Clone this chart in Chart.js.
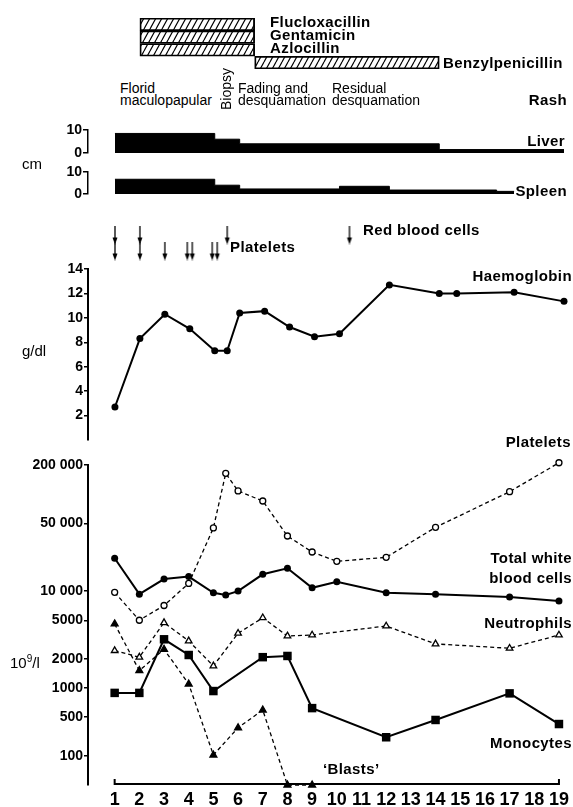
<!DOCTYPE html>
<html>
<head>
<meta charset="utf-8">
<script src="https://cdn.jsdelivr.net/npm/chart.js@4.4.1/dist/chart.umd.min.js"></script>
<style>
  body { margin: 0; background: #fff; }
  #fig { position: relative; width: 573px; height: 807px; overflow: hidden; background: #fff; color: #000; }
  #fig canvas { position: absolute; left: 0; }
  .lab { position: absolute; white-space: nowrap; line-height: 1; font-family: "Liberation Sans", Arial, sans-serif; transform: translateY(-50%); }
  .b { font-weight: bold; font-size: 15px; letter-spacing: 0.4px; }
  .r { font-size: 14px; }
  .u { font-size: 15px; }
  .lab sup { font-size: 10px; }
</style>
</head>
<body>
<div id="fig">
  <canvas id="drugs" width="573" height="51" style="top:18px"></canvas>
  <canvas id="liver" width="573" height="43" style="top:120px"></canvas>
  <canvas id="spleen" width="573" height="42" style="top:162px"></canvas>
  <canvas id="transfusions" width="573" height="44" style="top:221px"></canvas>
  <canvas id="hb" width="573" height="191" style="top:259px"></canvas>
  <canvas id="counts" width="573" height="352" style="top:455px"></canvas>
</div>
<script>
// ---- data ----
const DAYS = [1, 2, 3, 4, 5, 6, 7, 8, 9, 10, 11, 12, 13, 14, 15, 16, 17, 18, 19];

const DRUGS = ['Flucloxacillin', 'Gentamicin', 'Azlocillin', 'Benzylpenicillin'];
const DRUG_DAYS = [[2, 6.6], [2, 6.6], [2, 6.6], [6.6, 14]];

const LIVER_DAYS = [1, 5, 6, 14, 19];
const LIVER_CM = [8.5, 6, 4, 1.5, 1.5];
const SPLEEN_DAYS = [1, 5, 6, 10, 12, 16.3, 17];
const SPLEEN_CM = [6.7, 4, 2.3, 3.5, 1.8, 1.2, 1.2];
const ORGAN_TICKS = [0, 10];

const TX_ROWS = ['Red blood cells', 'Platelets'];
const RBC_TX_DAYS = [1, 2, 5.5, 10.4];
const PLT_TX_DAYS = [1, 2, 3, 3.9, 4.1, 4.9, 5.1];

const HB_DAYS = [1, 2, 3, 4, 5, 5.5, 6, 7, 8, 9, 10, 12, 14, 14.7, 17, 19];
const HB = [2.7, 8.3, 10.3, 9.1, 7.3, 7.3, 10.4, 10.55, 9.25, 8.45, 8.7, 12.7, 12.0, 12.0, 12.1, 11.35];
const HB_TICKS = [2, 4, 6, 8, 10, 12, 14];

const PLT_DAYS = [1, 2, 3, 4, 5, 5.5, 6, 7, 8, 9, 10, 12, 14, 17, 19];
const PLT = [9700, 5000, 7100, 12000, 44800, 164000, 108000, 85000, 37000, 25300, 20300, 22300, 45500, 106000, 211000];
const WBC_DAYS = [1, 2, 3, 4, 5, 5.5, 6, 7, 8, 9, 10, 12, 14, 17, 19];
const WBC = [21800, 9300, 13300, 14100, 9600, 9100, 10000, 14900, 17200, 10800, 12500, 9600, 9300, 8700, 7900];
const NEUT_DAYS = [1, 2, 3, 4, 5, 6, 7, 8, 9, 12, 14, 17, 19];
const NEUT = [2430, 2080, 4720, 3060, 1690, 3670, 5300, 3440, 3520, 4360, 2850, 2570, 3520];
const MONO_DAYS = [1, 2, 3, 4, 5, 7, 8, 9, 12, 14, 17, 19];
const MONO = [890, 890, 3180, 2190, 930, 2080, 2140, 620, 217, 445, 880, 376];
const BLAST_DAYS = [1, 2, 3, 4, 5, 6, 7, 8, 9];
const BLASTS = [4580, 1510, 2510, 1100, 104, 322, 593, 0, 0];
const COUNT_TICKS = [100, 500, 1000, 2000, 5000, 10000, 50000, 200000];

// ---- shared geometry ----
const X_MIN = -0.08, X_MAX = 19.08;
const AXIS_W = 88;
const FONT = '"Liberation Sans", Arial, sans-serif';

Chart.defaults.animation = false;
Chart.defaults.responsive = false;
Chart.defaults.events = [];
Chart.defaults.color = '#000';
Chart.defaults.font.family = FONT;
Chart.defaults.plugins.legend.display = false;
Chart.defaults.plugins.tooltip.enabled = false;

// count axis: logarithmic from 500 up, the 100 tick and the zero line squeezed in below
function countAxis(v) {
  const top = Math.log10(500);
  if (v >= 500) return Math.log10(v);
  if (v >= 100) return top - 0.4 * Math.log10(500 / v) / Math.log10(5);
  return top - 0.4 - 0.3 * (1 - v / 100);
}

class CountScale extends Chart.LinearScale {
  static id = 'count';
  determineDataLimits() {
    this.min = countAxis(this.options.min);
    this.max = countAxis(this.options.max);
  }
  buildTicks() {
    return COUNT_TICKS.map(value => ({ value }));
  }
  getPixelForValue(value) {
    return super.getPixelForValue(countAxis(value));
  }
}
Chart.register(CountScale);

function fmtCount(v) {
  return v >= 10000 ? String(v).replace(/(\d)(?=(\d{3})+$)/g, '$1 ') : String(v);
}

function dayAxis(extra) {
  return Object.assign({ type: 'linear', min: X_MIN, max: X_MAX, display: false }, extra || {});
}

function valueAxis(extra) {
  return Object.assign({
    afterFit: s => { s.width = AXIS_W; },
    grid: { drawOnChartArea: false, drawTicks: true, tickLength: 4, color: '#000', lineWidth: 1.5 },
    border: { display: true, color: '#000', width: 2 },
    ticks: { padding: 1, color: '#000', font: { family: FONT, weight: 'bold', size: 14 } }
  }, extra);
}

function pts(days, vals) {
  return days.map((d, i) => ({ x: d, y: vals[i] }));
}

function makeHatch(ctx) {
  const w = 6, h = 11;
  const tile = document.createElement('canvas');
  tile.width = w; tile.height = h;
  const t = tile.getContext('2d');
  t.strokeStyle = '#000';
  t.lineWidth = 1.2;
  t.beginPath();
  for (let k = -1; k <= 1; k++) {
    t.moveTo(k * w, h);
    t.lineTo((k + 1) * w, 0);
  }
  t.stroke();
  return ctx.createPattern(tile, 'repeat');
}

function makeArrow() {
  const c = document.createElement('canvas');
  c.width = 8; c.height = 19;
  const t = c.getContext('2d');
  t.strokeStyle = '#000';
  t.fillStyle = '#000';
  t.lineWidth = 1.3;
  t.beginPath(); t.moveTo(4, 0); t.lineTo(4, 14); t.stroke();
  t.beginPath(); t.moveTo(1.5, 12); t.lineTo(6.5, 12); t.lineTo(4, 19); t.closePath(); t.fill();
  return c;
}

// ---- antibiotics ----
const drugCanvas = document.getElementById('drugs');
new Chart(drugCanvas, {
  type: 'bar',
  data: {
    labels: DRUGS,
    datasets: [{
      data: DRUG_DAYS,
      backgroundColor: makeHatch(drugCanvas.getContext('2d')),
      borderColor: '#000',
      borderWidth: 1.2,
      borderSkipped: false,
      barPercentage: 1,
      categoryPercentage: 1
    }]
  },
  options: {
    indexAxis: 'y',
    layout: { padding: { left: AXIS_W, right: 7, top: 0, bottom: 0 } },
    scales: { x: dayAxis(), y: { display: false } }
  }
});

// ---- liver and spleen ----
function organChart(id, days, cm) {
  new Chart(document.getElementById(id), {
    type: 'line',
    data: {
      datasets: [{
        data: pts(days, cm),
        stepped: true,
        fill: 'origin',
        backgroundColor: '#000',
        borderColor: '#000',
        borderWidth: 1,
        pointRadius: 0
      }]
    },
    options: {
      layout: { padding: { left: 0, right: 7, top: 10, bottom: 10 } },
      scales: {
        x: dayAxis(),
        y: valueAxis({
          min: 0, max: 10,
          afterBuildTicks: s => { s.ticks = ORGAN_TICKS.map(value => ({ value })); },
          grid: { drawOnChartArea: false, drawTicks: true, tickLength: 5, color: '#000', lineWidth: 1.5 },
          border: { display: true, color: '#000', width: 1.5 }
        })
      }
    }
  });
}
organChart('liver', LIVER_DAYS, LIVER_CM);
organChart('spleen', SPLEEN_DAYS, SPLEEN_CM);

// ---- transfusions ----
const arrow = makeArrow();
new Chart(document.getElementById('transfusions'), {
  type: 'scatter',
  data: {
    datasets: [
      { data: RBC_TX_DAYS.map(d => ({ x: d, y: TX_ROWS[0] })), pointStyle: arrow, pointRadius: 5 },
      { data: PLT_TX_DAYS.map(d => ({ x: d, y: TX_ROWS[1] })), pointStyle: arrow, pointRadius: 5 }
    ]
  },
  options: {
    layout: { padding: { left: AXIS_W, right: 7, top: 0, bottom: 0 } },
    scales: {
      x: dayAxis(),
      y: { type: 'category', labels: TX_ROWS, offset: true, display: false }
    }
  }
});

// ---- haemoglobin ----
new Chart(document.getElementById('hb'), {
  type: 'line',
  data: {
    datasets: [{
      data: pts(HB_DAYS, HB),
      borderColor: '#000',
      borderWidth: 2,
      pointRadius: 3.5,
      pointBackgroundColor: '#000',
      pointBorderWidth: 0,
      clip: false
    }]
  },
  options: {
    layout: { padding: { left: 0, right: 7, top: 10, bottom: 10 } },
    scales: {
      x: dayAxis(),
      y: valueAxis({
        min: 0, max: 14,
        afterBuildTicks: s => { s.ticks = HB_TICKS.map(value => ({ value })); }
      })
    }
  }
});

// ---- cell counts ----
const baseline = {
  id: 'baseline',
  beforeDatasetsDraw(chart) {
    const { ctx, chartArea, scales: { x } } = chart;
    const a = x.getPixelForValue(DAYS[0]);
    const b = x.getPixelForValue(DAYS[DAYS.length - 1]);
    const y = chartArea.bottom - 1;
    ctx.save();
    ctx.strokeStyle = '#000';
    ctx.lineWidth = 2;
    ctx.beginPath();
    ctx.moveTo(a, y - 5);
    ctx.lineTo(a, y);
    ctx.lineTo(b, y);
    ctx.lineTo(b, y - 5);
    ctx.stroke();
    ctx.restore();
  }
};

const solid = { borderColor: '#000', borderWidth: 2, pointBackgroundColor: '#000', pointBorderColor: '#000', pointBorderWidth: 0, clip: false };
const dashed = { borderColor: '#000', borderWidth: 1.3, borderDash: [4, 3], pointBorderColor: '#000', pointBorderWidth: 1.3, clip: false };

new Chart(document.getElementById('counts'), {
  type: 'line',
  data: {
    datasets: [
      Object.assign({ data: pts(WBC_DAYS, WBC), pointStyle: 'circle', pointRadius: 3.5 }, solid),
      Object.assign({ data: pts(MONO_DAYS, MONO), pointStyle: 'rect', pointRadius: 6 }, solid),
      Object.assign({ data: pts(PLT_DAYS, PLT), pointStyle: 'circle', pointRadius: 3, pointBackgroundColor: '#fff' }, dashed),
      Object.assign({ data: pts(NEUT_DAYS, NEUT), pointStyle: 'triangle', pointRadius: 3.8, pointBackgroundColor: '#fff' }, dashed),
      Object.assign({ data: pts(BLAST_DAYS, BLASTS), pointStyle: 'triangle', pointRadius: 4, pointBackgroundColor: '#000' }, dashed)
    ]
  },
  options: {
    layout: { padding: { left: 0, right: 7, top: 10, bottom: 0 } },
    scales: {
      x: dayAxis({
        display: true,
        afterFit: s => { s.height = 22; },
        afterBuildTicks: s => { s.ticks = DAYS.map(value => ({ value })); },
        grid: { display: false, drawTicks: false },
        border: { display: false },
        ticks: {
          padding: 4, color: '#000', maxRotation: 0, autoSkip: false,
          font: { family: '"Liberation Sans Narrow", "Liberation Sans", sans-serif', weight: 'bold', size: 18 }
        }
      }),
      y: valueAxis({
        type: 'count', min: 0, max: 200000,
        ticks: { padding: 1, color: '#000', callback: v => fmtCount(v), font: { family: FONT, weight: 'bold', size: 14 } }
      })
    }
  },
  plugins: [baseline]
});

// ---- text ----
const LABELS = [
  ['Flucloxacillin', 270, 21, 'b'],
  ['Gentamicin', 270, 34, 'b'],
  ['Azlocillin', 270, 47, 'b'],
  ['Benzylpenicillin', 443, 62, 'b'],
  ['Florid', 120, 88, 'r'],
  ['maculopapular', 120, 100, 'r'],
  ['Fading and', 238, 88, 'r'],
  ['desquamation', 238, 100, 'r'],
  ['Residual', 332, 88, 'r'],
  ['desquamation', 332, 100, 'r'],
  ['Rash', 567, 99, 'b', 'right'],
  ['Liver', 565, 140, 'b', 'right'],
  ['Spleen', 567, 190, 'b', 'right'],
  ['cm', 22, 163, 'u'],
  ['Red blood cells', 363, 229, 'b'],
  ['Platelets', 230, 246, 'b'],
  ['Haemoglobin', 572, 275, 'b', 'right'],
  ['g/dl', 22, 350, 'u'],
  ['Platelets', 571, 441, 'b', 'right'],
  ['Total white', 572, 557, 'b', 'right'],
  ['blood cells', 572, 577, 'b', 'right'],
  ['Neutrophils', 572, 622, 'b', 'right'],
  ['Monocytes', 572, 742, 'b', 'right'],
  ['\u2018Blasts\u2019', 323, 768, 'b'],
  ['10<sup>9</sup>/l', 10, 662, 'u']
];
const fig = document.getElementById('fig');
LABELS.forEach(([text, x, y, cls, align]) => {
  const el = document.createElement('div');
  el.className = 'lab ' + cls;
  el.innerHTML = text;
  el.style.top = y + 'px';
  if (align === 'right') el.style.right = (573 - x) + 'px';
  else el.style.left = x + 'px';
  fig.appendChild(el);
});
const biopsy = document.createElement('div');
biopsy.className = 'lab r';
biopsy.textContent = 'Biopsy';
biopsy.style.left = '226px';
biopsy.style.top = '89px';
biopsy.style.transform = 'translate(-50%, -50%) rotate(-90deg)';
fig.appendChild(biopsy);
</script>
</body>
</html>
